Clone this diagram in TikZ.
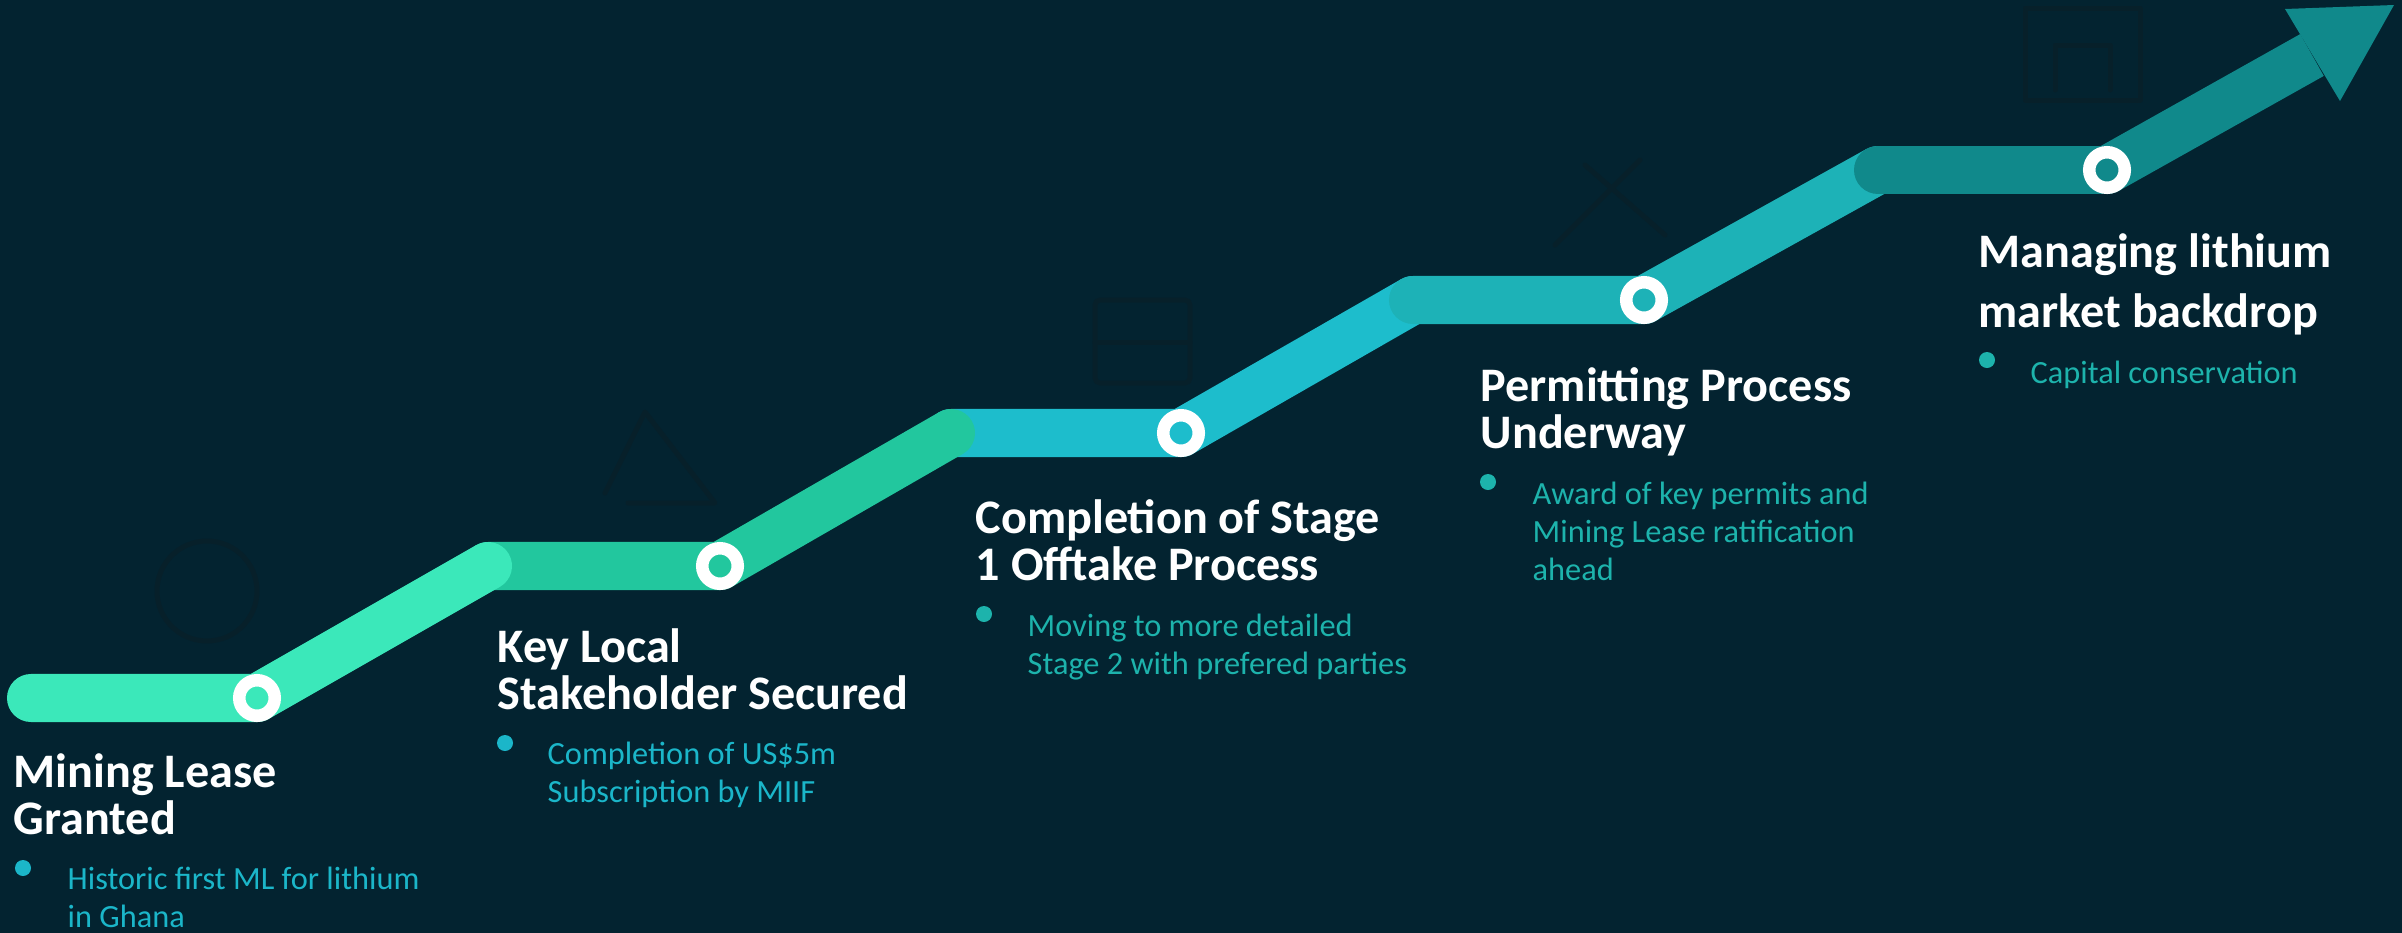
\documentclass[tikz,border=0pt]{standalone}
\usepackage{fontspec}
\setmainfont{Carlito}
\definecolor{bg}{HTML}{032330}
\definecolor{faint}{HTML}{07202A}
\definecolor{c1}{HTML}{3BE8BA}
\definecolor{c2}{HTML}{22C79E}
\definecolor{c3}{HTML}{1DBDCC}
\definecolor{c4}{HTML}{1DB2B7}
\definecolor{c5}{HTML}{10898B}
\definecolor{ncyan}{HTML}{1BB6C9}
\definecolor{nteal}{HTML}{1DB3AC}

\begin{document}
\begin{tikzpicture}[x=0.01cm, y=-0.01cm,
    track/.style={line width=0.48cm, line cap=round, line join=round},
    ring/.style={circle, draw=white, line width=0.125cm, minimum size=0.355cm, inner sep=0pt},
    heading/.style={anchor=base west, align=left, inner sep=0pt, text=white,
      font=\bfseries\fontsize{13.7}{13.3}\selectfont},
    note/.style={anchor=base west, align=left, inner sep=0pt,
      font=\fontsize{9.2}{10.8}\selectfont},
    pip/.style={circle, fill=#1, minimum size=0.16cm, inner sep=0pt},
    icon/.style={draw=faint, line width=0.05cm, line cap=round, line join=round}]

  \useasboundingbox (0,0) rectangle (2402,933);
  \fill[bg] (0,0) rectangle (2402,933);

  % faint icons behind the steps
  \draw[icon] (207,591) circle (50);
  \draw[icon] (605,493) -- (645,412) -- (715,503) -- (628,503);
  \draw[icon, rounded corners=0.05cm] (1095,300) rectangle (1190,383);
  \draw[icon] (1095,342) -- (1190,342);
  \draw[icon] (1555,245) -- (1640,160);
  \draw[icon] (1585,165) -- (1665,235);
  \draw[icon] (2025,8) rectangle (2140,100);
  \draw[icon] (2055,90) -- (2055,45) -- (2110,45) -- (2110,90);

  % path points
  \coordinate (s1) at (31,698);
  \coordinate (p1) at (257,698);
  \coordinate (s2) at (488,566);
  \coordinate (p2) at (720,566);
  \coordinate (s3) at (951,433);
  \coordinate (p3) at (1181,433);
  \coordinate (s4) at (1413,300);
  \coordinate (p4) at (1644,300);
  \coordinate (s5) at (1878,170);
  \coordinate (p5) at (2107,170);
  \coordinate (base) at (2312,55);
  \coordinate (barbA) at (2285,9);
  \coordinate (barbB) at (2340,101);
  \coordinate (tip) at (2394,5);

  \draw[track, c3] (s3) -- (p3) -- (s4);
  \draw[track, c2] (s2) -- (p2) -- (s3);
  \draw[track, c1] (s1) -- (p1) -- (s2);
  \draw[track, c4] (s4) -- (p4) -- (s5);
  \draw[track, c5] (s5) -- (p5);
  \draw[track, c5, line cap=butt] (p5) -- (base);
  \fill[c5] (barbA) -- (tip) -- (barbB) -- cycle;

  \node[ring, fill=c1] (r1) at (p1) {};
  \node[ring, fill=c2] (r2) at (p2) {};
  \node[ring, fill=c3] (r3) at (p3) {};
  \node[ring, fill=c4] (r4) at (p4) {};
  \node[ring, fill=c5] (r5) at (p5) {};

  % milestones
  \node[heading] (t1) at (13,834) {Mining Lease\\Granted};
  \node[pip=ncyan] (d1) at (23,868) {};
  \node[note, text=ncyan] (n1) at (67,927) {Historic first ML for lithium\\in Ghana};

  \node[heading] (t2) at (497,709) {Key Local\\Stakeholder Secured};
  \node[pip=ncyan] (d2) at (505,743) {};
  \node[note, text=ncyan] (n2) at (547,802) {Completion of US\$5m\\Subscription by MIIF};

  \node[heading] (t3) at (975,580) {Completion of Stage\\1 Offtake Process};
  \node[pip=nteal] (d3) at (984,614) {};
  \node[note, text=nteal] (n3) at (1027,674) {Moving to more detailed\\Stage 2 with prefered parties};

  \node[heading] (t4) at (1480,448) {Permitting Process\\Underway};
  \node[pip=nteal] (d4) at (1488,482) {};
  \node[note, text=nteal] (n4) at (1532,580) {Award of key permits and\\Mining Lease ratification\\ahead};

  \node[heading, font=\bfseries\fontsize{13.7}{16.8}\selectfont] (t5) at (1978,327) {Managing lithium\\market backdrop};
  \node[pip=nteal] (d5) at (1987,360) {};
  \node[note, text=nteal] (n5) at (2030,383) {Capital conservation};
\end{tikzpicture}
\end{document}
